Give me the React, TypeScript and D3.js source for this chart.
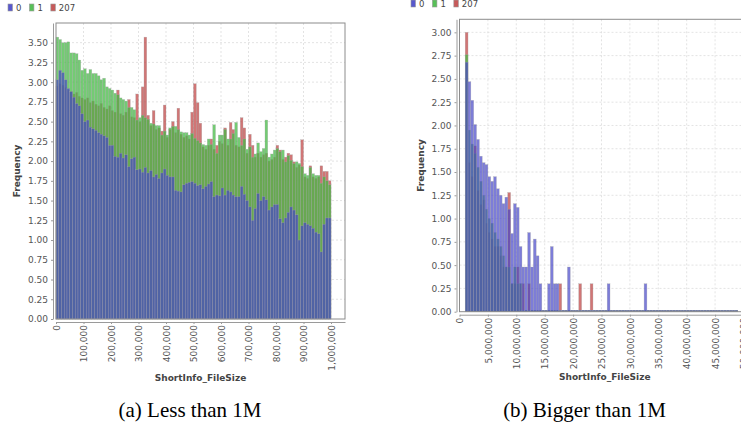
import React, { useRef, useEffect } from 'react';
import * as d3 from 'd3';

// legend keys, drawn bottom-to-top in reverse order (207 first, 0 on top)
const seriesKeys = ['0', '1', '207'];
const seriesColors: Record<string, string> = { '0': '#4646c8', '1': '#46b946', '207': '#c04848' };
const seriesOpacity: Record<string, number> = { '0': 0.7, '1': 0.75, '207': 0.75 };

// (a) files smaller than 1M: bins of 10,000 starting at 0
const smallBinStart = 0;
const smallBinWidth = 10000;
const smallFreq0 = [
  3.03, 3.15, 3.12, 3.03, 2.92, 2.88, 2.81, 2.73, 2.70, 2.60,
  2.50, 2.52, 2.43, 2.41, 2.39, 2.36, 2.34, 2.32, 2.30, 2.20,
  2.20, 2.06, 2.05, 2.10, 2.04, 2.08, 1.93, 2.03, 2.05, 1.89,
  1.90, 1.86, 1.92, 1.85, 1.88, 1.80, 1.83, 1.78, 1.85, 1.90,
  1.82, 1.80, 1.80, 1.63, 1.62, 1.61, 1.70, 1.72, 1.73, 1.74,
  1.72, 1.69, 1.70, 1.65, 1.68, 1.71, 1.74, 1.55, 1.57, 1.56,
  1.66, 1.57, 1.63, 1.61, 1.57, 1.55, 1.55, 1.68, 1.58, 1.50,
  1.42, 1.25, 1.40, 1.59, 1.50, 1.55, 1.51, 1.38, 1.42, 1.45,
  1.45, 1.27, 1.22, 1.28, 1.35, 1.42, 1.38, 1.32, 1.00, 1.18,
  1.22, 1.20, 1.18, 1.15, 1.10, 1.08, 0.85, 1.20, 1.28, 1.28,
];
const smallFreq1 = [
  3.57, 3.54, 3.50, 3.50, 3.51, 3.37, 3.37, 3.36, 3.28, 3.15,
  3.17, 3.11, 3.16, 3.11, 3.11, 3.08, 3.03, 3.05, 2.94, 2.92,
  2.90, 2.86, 2.84, 2.80, 2.78, 2.76, 2.68, 2.68, 2.65, 2.52,
  2.55, 2.58, 2.55, 2.53, 2.48, 2.47, 2.45, 2.45, 2.33, 2.38,
  2.33, 2.42, 2.44, 2.44, 2.40, 2.37, 2.36, 2.36, 2.33, 2.35,
  2.29, 2.26, 2.23, 2.21, 2.20, 2.28, 2.21, 2.46, 2.10, 2.33,
  2.33, 2.40, 2.28, 2.28, 2.35, 2.49, 2.30, 2.20, 2.28, 2.15,
  2.18, 2.05, 2.09, 2.23, 2.12, 2.16, 2.52, 2.05, 2.09, 2.14,
  2.16, 2.12, 2.14, 1.99, 2.07, 2.01, 1.97, 1.99, 1.97, 1.93,
  1.84, 1.82, 1.92, 1.84, 1.82, 1.82, 1.72, 1.80, 1.75, 1.70,
];
const smallFreq207 = [
  2.95, 2.98, 2.96, 2.93, 2.90, 2.88, 2.85, 2.87, 2.82, 2.80,
  2.78, 2.80, 2.74, 2.76, 2.72, 2.70, 2.73, 2.68, 2.66, 2.70,
  2.64, 2.62, 2.90, 2.60, 2.58, 2.62, 2.78, 2.56, 2.55, 2.85,
  2.50, 2.94, 3.57, 2.58, 2.45, 2.64, 2.40, 2.42, 2.38, 2.71,
  2.30, 2.40, 2.50, 2.36, 2.67, 2.34, 2.30, 2.32, 2.28, 2.62,
  2.98, 2.74, 2.48, 2.18, 2.15, 2.20, 2.28, 2.15, 2.20, 2.25,
  2.22, 2.42, 2.20, 2.49, 2.40, 2.20, 2.18, 2.55, 2.42, 2.10,
  2.34, 2.20, 2.05, 2.10, 2.05, 2.08, 2.10, 2.00, 2.02, 2.05,
  2.20, 2.14, 2.02, 2.05, 2.10, 2.08, 1.99, 1.92, 1.95, 2.27,
  1.80, 1.78, 1.94, 1.80, 1.78, 1.80, 1.94, 1.87, 1.87, 1.75,
];
const smallXTicks = [0, 100000, 200000, 300000, 400000, 500000, 600000, 700000, 800000, 900000, 1000000];
const smallYTicks = [0, 0.25, 0.5, 0.75, 1, 1.25, 1.5, 1.75, 2, 2.25, 2.5, 2.75, 3, 3.25, 3.5];

// (b) files bigger than 1M: bins of 500,000 starting at 1M
const bigBinStart = 1000000;
const bigBinWidth = 500000;
const bigFreq0 = [
  2.68, 2.47, 2.27, 2.01, 1.85, 1.67, 1.60, 1.58, 1.45, 1.40,
  1.45, 1.32, 1.25, 1.16, 1.23, 1.10, 0.84, 1.16, 1.12, 0.70,
  0.48, 0.48, 0.85, 0.48, 0.78, 0.60, 0.30, 0, 0, 0.30,
  0.70, 0.30, 0.30, 0, 0, 0, 0.48, 0, 0, 0,
  0, 0, 0, 0, 0, 0, 0, 0, 0, 0,
  0.30, 0, 0, 0, 0, 0, 0, 0, 0, 0,
  0, 0, 0, 0.30, 0, 0, 0, 0, 0, 0,
  0, 0, 0, 0, 0, 0, 0, 0, 0, 0,
  0, 0, 0, 0, 0, 0, 0, 0, 0, 0,
  0, 0, 0, 0, 0, 0,
];
const bigFreq1 = [
  2.76, 1.95, 1.80, 1.70, 1.55, 1.40, 1.25, 1.10, 1.00, 0.95,
  0.85, 0.78, 0.70, 0.60, 0.48, 0.48, 0.30, 0.48, 0.30, 0.30,
  0, 0, 0, 0, 0, 0, 0, 0, 0, 0,
  0, 0, 0, 0, 0, 0, 0, 0, 0, 0,
  0, 0, 0, 0, 0, 0, 0, 0, 0, 0,
  0, 0, 0, 0, 0, 0, 0, 0, 0, 0,
  0, 0, 0, 0, 0, 0, 0, 0, 0, 0,
  0, 0, 0, 0, 0, 0, 0, 0, 0, 0,
  0, 0, 0, 0, 0, 0, 0, 0, 0, 0,
  0, 0, 0, 0, 0, 0,
];
const bigFreq207 = [
  3.00, 1.60, 1.45, 1.78, 1.30, 1.15, 1.20, 0.95, 0.85, 0.78,
  0.70, 0.70, 0.60, 0.48, 0.48, 1.28, 0.30, 0.30, 0.48, 0.30,
  0.30, 0, 0.30, 0, 0, 0, 0, 0, 0, 0,
  0, 0, 0, 0.30, 0, 0, 0, 0, 0, 0,
  0.30, 0, 0, 0, 0.30, 0, 0, 0, 0, 0,
  0, 0, 0, 0, 0, 0, 0, 0, 0, 0,
  0, 0, 0, 0, 0, 0, 0, 0, 0, 0,
  0, 0, 0, 0, 0, 0, 0, 0, 0, 0,
  0, 0, 0, 0, 0, 0, 0, 0, 0, 0,
  0, 0, 0, 0, 0, 0,
];
const bigXTicks = [0, 5e6, 10e6, 15e6, 20e6, 25e6, 30e6, 35e6, 40e6, 45e6, 50e6];
const bigYTicks = [0, 0.25, 0.5, 0.75, 1, 1.25, 1.5, 1.75, 2, 2.25, 2.5, 2.75, 3];

const captions = ['(a) Less than 1M', '(b) Bigger than 1M'];

interface PanelSpec {
  left: number; right: number; top: number; bottom: number;
  xMax: number; yMax: number;
  binStart: number; binWidth: number;
  series: Record<string, number[]>;
  xTicks: number[]; yTicks: number[];
  legendX: number; legendY: number;
  titleY: number;
  caption: string; captionX: number;
  minBar: number;
}

const FONT = "'DejaVu Sans', sans-serif";

function drawPanel(svg: d3.Selection<SVGSVGElement, unknown, null, undefined>, p: PanelSpec) {
  const g = svg.append('g');
  const x = d3.scaleLinear().domain([0, p.xMax]).range([p.left, p.right]);
  const y = d3.scaleLinear().domain([0, p.yMax]).range([p.bottom, p.top]);

  // plot background + grid
  g.append('rect')
    .attr('x', p.left).attr('y', p.top)
    .attr('width', p.right - p.left).attr('height', p.bottom - p.top)
    .attr('fill', '#fff');

  g.append('g').selectAll('line')
    .data(p.yTicks.filter(t => t > 0))
    .join('line')
    .attr('x1', p.left).attr('x2', p.right)
    .attr('y1', d => y(d)).attr('y2', d => y(d))
    .attr('stroke', '#dcdcdc').attr('stroke-width', 0.8).attr('stroke-dasharray', '2,2');

  g.append('g').selectAll('line')
    .data(p.xTicks.filter(t => t > 0))
    .join('line')
    .attr('x1', d => x(d)).attr('x2', d => x(d))
    .attr('y1', p.top).attr('y2', p.bottom)
    .attr('stroke', '#dcdcdc').attr('stroke-width', 0.8).attr('stroke-dasharray', '2,2');

  // bars: 207 at the back, then 1, then 0 on top
  const order = [...seriesKeys].reverse();
  order.forEach(key => {
    const vals = p.series[key];
    g.append('g').selectAll('rect')
      .data(vals)
      .join('rect')
      .attr('x', (_, i) => x(p.binStart + i * p.binWidth))
      .attr('width', (_, i) => x(p.binStart + (i + 1) * p.binWidth) - x(p.binStart + i * p.binWidth))
      .attr('y', d => Math.min(y(d), p.bottom - p.minBar))
      .attr('height', d => Math.max(p.bottom - y(d), p.minBar))
      .attr('fill', seriesColors[key])
      .attr('fill-opacity', seriesOpacity[key])
      .attr('stroke', '#a8a8a8')
      .attr('stroke-width', 0.4)
      .attr('stroke-opacity', 0.7);
  });

  // plot outline
  g.append('rect')
    .attr('x', p.left).attr('y', p.top)
    .attr('width', p.right - p.left).attr('height', p.bottom - p.top)
    .attr('fill', 'none').attr('stroke', '#8c8c8c').attr('stroke-width', 1);

  // y axis
  const yAxis = g.append('g')
    .attr('transform', `translate(${p.left - 3},0)`)
    .call(d3.axisLeft(y).tickValues(p.yTicks).tickFormat(d3.format('.2f') as any).tickSize(2).tickSizeOuter(0).tickPadding(3));
  yAxis.select('.domain').attr('stroke', '#9a9a9a');
  yAxis.selectAll('line').attr('stroke', '#9a9a9a');
  yAxis.selectAll('text').attr('fill', '#555').style('font-family', FONT).style('font-size', '9px');

  // x axis
  const xAxis = g.append('g')
    .attr('transform', `translate(0,${p.bottom + 3})`)
    .call(d3.axisBottom(x).tickValues(p.xTicks).tickFormat(d3.format(',') as any).tickSize(2).tickSizeOuter(0).tickPadding(1));
  xAxis.select('.domain').attr('stroke', '#9a9a9a');
  xAxis.selectAll('line').attr('stroke', '#9a9a9a');
  xAxis.selectAll('text')
    .attr('fill', '#555')
    .style('font-family', FONT).style('font-size', '9px')
    .attr('transform', 'rotate(-90)')
    .attr('text-anchor', 'end')
    .attr('x', -3).attr('y', 0).attr('dy', '0.35em');

  // axis titles
  g.append('text')
    .attr('transform', `translate(${p.left - 36},${(p.top + p.bottom) / 2}) rotate(-90)`)
    .attr('text-anchor', 'middle')
    .attr('fill', '#444').style('font-family', FONT).style('font-size', '9px').style('font-weight', 'bold')
    .text('Frequency');

  g.append('text')
    .attr('x', (p.left + p.right) / 2).attr('y', p.titleY)
    .attr('text-anchor', 'middle')
    .attr('fill', '#444').style('font-family', FONT).style('font-size', '9px').style('font-weight', 'bold')
    .text('ShortInfo_FileSize');

  // legend
  let lx = p.legendX;
  seriesKeys.forEach(key => {
    g.append('rect')
      .attr('x', lx).attr('y', p.legendY - 6.5)
      .attr('width', 4.5).attr('height', 7)
      .attr('fill', seriesColors[key]).attr('fill-opacity', 0.9)
      .attr('stroke', '#999').attr('stroke-width', 0.6);
    const t = g.append('text')
      .attr('x', lx + 8).attr('y', p.legendY)
      .attr('fill', '#444').style('font-family', FONT).style('font-size', '8.5px')
      .text(key);
    const w = (t.node() as SVGTextElement).getComputedTextLength();
    lx += 8 + w + 8;
  });

  // caption
  svg.append('text')
    .attr('x', p.captionX).attr('y', 417)
    .attr('text-anchor', 'middle')
    .attr('fill', '#000').style('font-family', "'Liberation Serif', 'Times New Roman', serif").style('font-size', '21px')
    .text(p.caption);
}

export default function App() {
  const svgRef = useRef<SVGSVGElement>(null);

  useEffect(() => {
    if (!svgRef.current) return;
    const svg = d3.select(svgRef.current);
    svg.selectAll('*').remove();

    drawPanel(svg, {
      left: 56, right: 345, top: 23, bottom: 319,
      xMax: 1050900, yMax: 3.749,
      binStart: smallBinStart, binWidth: smallBinWidth,
      series: { '0': smallFreq0, '1': smallFreq1, '207': smallFreq207 },
      xTicks: smallXTicks, yTicks: smallYTicks,
      legendX: 8, legendY: 10.5,
      titleY: 381,
      caption: captions[0], captionX: 190,
      minBar: 0,
    });

    drawPanel(svg, {
      left: 459.5, right: 750, top: 19.3, bottom: 311.7,
      xMax: 51.15e6, yMax: 3.14,
      binStart: bigBinStart, binWidth: bigBinWidth,
      series: { '0': bigFreq0, '1': bigFreq1, '207': bigFreq207 },
      xTicks: bigXTicks, yTicks: bigYTicks,
      legendX: 411, legendY: 6.5,
      titleY: 380,
      caption: captions[1], captionX: 584.5,
      minBar: 1.5,
    });
  }, []);

  return (
    <svg
      ref={svgRef}
      width={741}
      height={427}
      style={{ position: 'absolute', left: 0, top: 0, background: '#fff' }}
    />
  );
}
